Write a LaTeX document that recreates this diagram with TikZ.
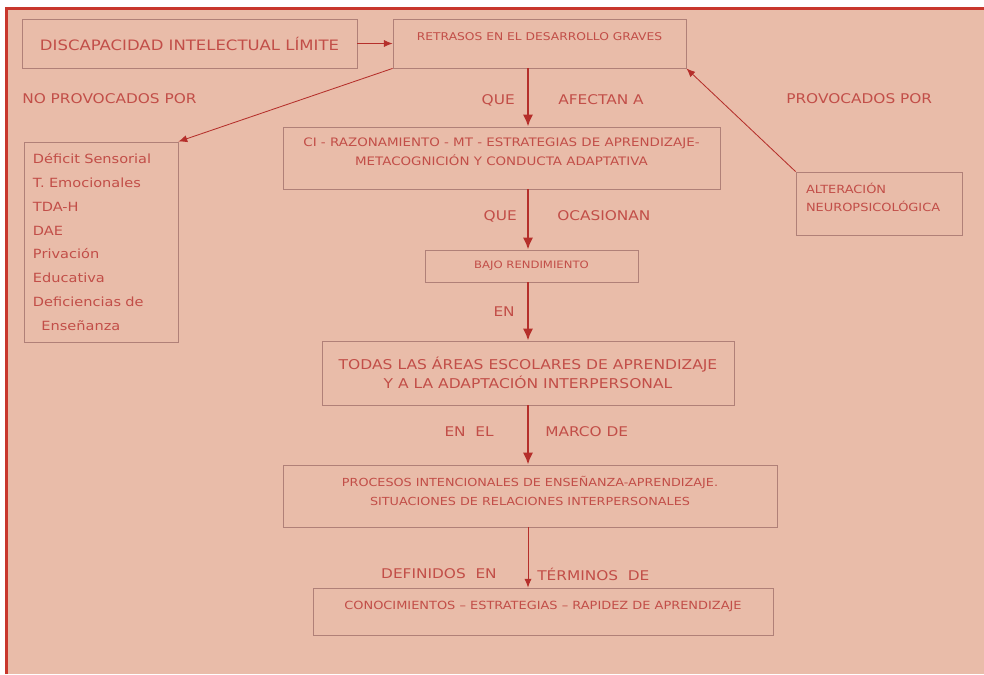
\documentclass[tikz,border=0pt]{standalone}
\usepackage{fontspec}
\setmainfont[FakeStretch=1.15]{DejaVu Sans}
\usepackage{tikz}
\usetikzlibrary{positioning, arrows.meta}

\definecolor{fondo}{HTML}{E9BCA9}
\definecolor{marco}{HTML}{C8372D}
\definecolor{texto}{HTML}{C24E48}
\definecolor{linea}{HTML}{B08078}
\definecolor{flecha}{HTML}{B52F2B}

\begin{document}
\begin{tikzpicture}[
    x = 0.25mm, y = -0.25mm,
    every node/.style = {text = texto, inner sep = 0pt},
    caja/.style = {draw = linea, fill = fondo, line width = 0.6pt, align = center},
    rotulo/.style = {font = \fontsize{9.5}{11}\selectfont},
    gruesa/.style = {draw = flecha, line width = 2pt, -{Latex[length = 3mm, width = 2.6mm]}},
    fina/.style = {draw = flecha, line width = 0.6pt, -{Latex[length = 2.2mm, width = 1.8mm]}}
  ]
  \useasboundingbox (0,0) rectangle (984,674);
  % fondo y marco
  \fill[fondo] (5,7) rectangle (984,674);
  \draw[marco, line width = 0.75mm] (6.5,674) -- (6.5,8.5) -- (984,8.5);

  % cajas
  \node[caja, minimum width = 83.75mm, minimum height = 12.25mm,
    font = \fontsize{10.2}{12}\selectfont] (dil) at (189.5,43.5)
    {DISCAPACIDAD INTELECTUAL LÍMITE};
  \node[caja, minimum width = 73.25mm, minimum height = 12.25mm, text depth = 3.5mm,
    font = \fontsize{7.6}{9}\selectfont] (retrasos) at (539.5,43.5)
    {RETRASOS EN EL DESARROLLO GRAVES};
  \node[caja, align = left, text width = 34mm, inner xsep = 2.25mm,
    minimum height = 50mm, font = \fontsize{9}{17}\selectfont] (causas) at (101,242)
    {Déficit Sensorial\\ T. Emocionales\\ TDA-H\\ DAE\\ Privación\\ Educativa\\
     Deficiencias de\\ \ \ Enseñanza};
  \node[caja, minimum width = 109.25mm, minimum height = 15.5mm, text depth = 3mm,
    font = \fontsize{8.3}{13.5}\selectfont] (areas) at (501.5,158)
    {CI - RAZONAMIENTO - MT - ESTRATEGIAS DE APRENDIZAJE-\\
     METACOGNICIÓN Y CONDUCTA ADAPTATIVA};
  \node[caja, align = left, text width = 36.5mm, inner xsep = 2.5mm, text depth = 7.5mm,
    minimum height = 15.75mm, font = \fontsize{8}{12.8}\selectfont] (alteracion) at (879,203.5)
    {ALTERACIÓN\\ NEUROPSICOLÓGICA};
  \node[caja, minimum width = 53.25mm, minimum height = 8mm,
    font = \fontsize{7.2}{8}\selectfont] (bajo) at (531.5,266)
    {BAJO RENDIMIENTO};
  \node[caja, minimum width = 103mm, minimum height = 16mm,
    font = \fontsize{9.6}{13.5}\selectfont] (todas) at (528,373)
    {TODAS LAS ÁREAS ESCOLARES DE APRENDIZAJE\\ Y A LA ADAPTACIÓN INTERPERSONAL};
  \node[caja, minimum width = 123.5mm, minimum height = 15.5mm, text depth = 2.5mm,
    font = \fontsize{7.9}{13.5}\selectfont] (procesos) at (530,496)
    {PROCESOS INTENCIONALES DE ENSEÑANZA-APRENDIZAJE.\\
     SITUACIONES DE RELACIONES INTERPERSONALES};
  \node[caja, minimum width = 115mm, minimum height = 11.75mm, text depth = 3mm,
    font = \fontsize{8}{9}\selectfont] (conoc) at (543,611.5)
    {CONOCIMIENTOS -- ESTRATEGIAS -- RAPIDEZ DE APRENDIZAJE};

  % eje de las flechas centrales
  \coordinate (eje) at (528,0);

  % conectores
  \draw[fina] (dil) -- (retrasos);
  \draw[fina] (retrasos.south west) -- (causas.north east);
  \draw[fina] (alteracion.north west) -- (retrasos.south east);
  \draw[gruesa] (retrasos.south -| eje) -- (areas.north -| eje);
  \draw[gruesa] (areas.south -| eje) -- (bajo.north -| eje);
  \draw[gruesa] (bajo.south -| eje) -- (todas.north -| eje);
  \draw[gruesa] (todas.south -| eje) -- (procesos.north -| eje);
  \draw[fina] (procesos.south -| eje) -- (conoc.north -| eje);

  % rotulos
  \begin{scope}[nodes = {rotulo}]
    \node[anchor = west] (noprov) at (22,99) {NO PROVOCADOS POR};
    \node[anchor = west] (prov) at (786,99) {PROVOCADOS POR};
    \node[anchor = east] (que1) at (515,100) {QUE};
    \node[anchor = west] (afectan) at (558,100) {AFECTAN A};
    \node[anchor = east] (que2) at (517,216) {QUE};
    \node[anchor = west] (ocasionan) at (557,216) {OCASIONAN};
    \node[anchor = east] (en) at (515,312) {EN};
    \node[anchor = east] (enel) at (494,432) {EN \ EL};
    \node[anchor = west] (marco) at (545,432) {MARCO DE};
    \node[anchor = east] (definidos) at (497,574) {DEFINIDOS \ EN};
    \node[anchor = west] (terminos) at (537,574) {TÉRMINOS \ DE};
  \end{scope}
\end{tikzpicture}
\end{document}
